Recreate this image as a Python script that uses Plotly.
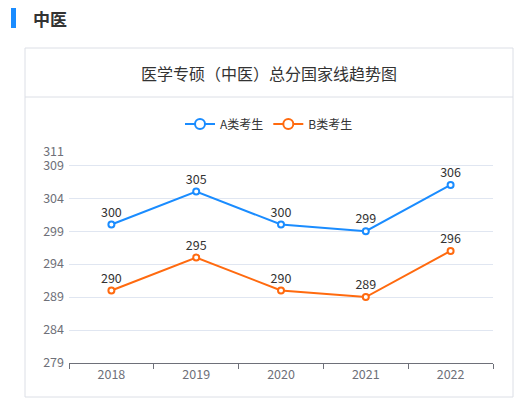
import plotly.graph_objects as go

years = ['2018', '2019', '2020', '2021', '2022']
a_scores = [300, 305, 300, 299, 306]
b_scores = [290, 295, 290, 289, 296]
y_ticks = [279, 284, 289, 294, 299, 304, 309, 311]

# the page body adds an 8px margin, so the figure is drawn 8px smaller
OFF = 8
W, H = 522 - OFF, 411 - OFF
# plot area in window pixels
L, R, T, B = 69, 493, 152, 363
FONT = 'Noto Sans CJK SC'


def px(x):
    return (x - L) / (R - L)


def py(y):
    return (B - y) / (B - T)


fig = go.Figure()

series = [('A类考生', a_scores, '#1a8cff'), ('B类考生', b_scores, '#ff6a0f')]
for name, vals, color in series:
    fig.add_trace(go.Scatter(
        x=years, y=vals, mode='lines+markers+text', name=name,
        text=[str(v) for v in vals], textposition='top center',
        textfont=dict(family=FONT, size=12.5, color='#333333'),
        line=dict(color=color, width=2),
        marker=dict(symbol='circle', size=6, color='white', line=dict(color=color, width=2)),
        showlegend=False, cliponaxis=False,
    ))
    # legend entry with a bigger symbol
    fig.add_trace(go.Scatter(
        x=[None], y=[None], mode='lines+markers', name=name,
        line=dict(color=color, width=2),
        marker=dict(symbol='circle', size=10, color='white', line=dict(color=color, width=2)),
    ))

# card, header divider and section heading
card = [px(25), py(397), px(513), py(48)]
fig.add_shape(type='rect', xref='paper', yref='paper',
              x0=card[0], y0=card[1], x1=card[2], y1=card[3],
              line=dict(color='#dcdfe6', width=1), fillcolor='rgba(0,0,0,0)', layer='below')
fig.add_shape(type='line', xref='paper', yref='paper',
              x0=card[0], x1=card[2], y0=py(97), y1=py(97),
              line=dict(color='#dcdfe6', width=1))
fig.add_shape(type='rect', xref='paper', yref='paper',
              x0=px(11), x1=px(16), y0=py(28), y1=py(8),
              line=dict(width=0), fillcolor='#1a8cff')

fig.add_annotation(xref='paper', yref='paper', x=px(31), y=py(18),
                   xanchor='left', yanchor='middle', showarrow=False,
                   text='<b>中医</b>', font=dict(family=FONT, size=17, color='#333333'))
fig.add_annotation(xref='paper', yref='paper', x=px(269), y=py(73),
                   xanchor='center', yanchor='middle', showarrow=False,
                   text='医学专硕（中医）总分国家线趋势图',
                   font=dict(family=FONT, size=16, color='#333333'))

fig.update_layout(
    width=W, height=H,
    margin=dict(l=L - OFF, r=W - (R - OFF), t=T - OFF, b=H - (B - OFF)),
    paper_bgcolor='white', plot_bgcolor='white',
    font=dict(family=FONT, size=12, color='#6e7079'),
    legend=dict(orientation='h', x=px(269), y=py(124), xanchor='center', yanchor='middle',
                font=dict(family=FONT, size=12, color='#333333'),
                itemwidth=30, bgcolor='rgba(0,0,0,0)'),
    xaxis=dict(type='category', range=[-0.5, 4.5], tickson='boundaries',
               showline=True, linecolor='#6e7079', linewidth=1,
               ticks='outside', ticklen=5, tickcolor='#6e7079',
               showgrid=False, tickfont=dict(size=12.5, color='#6e7079')),
    yaxis=dict(range=[279, 311], tickvals=y_ticks, showline=False,
               gridcolor='#e0e6f1', gridwidth=1, zeroline=False,
               ticks='', ticklabelstandoff=4,
               tickfont=dict(size=12.5, color='#6e7079')),
)

fig.write_html('out.html')
